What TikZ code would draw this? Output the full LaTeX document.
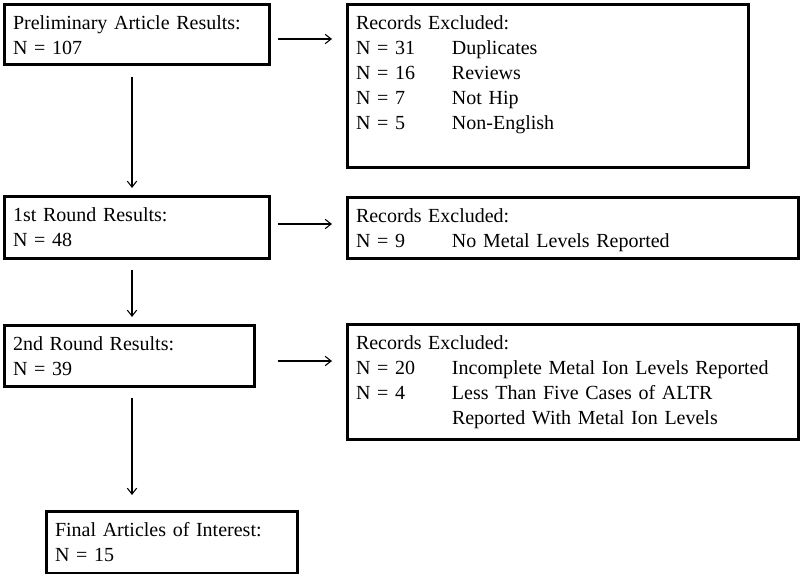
\documentclass[tikz,border=0pt]{standalone}
\usepackage{fontspec}
\setmainfont{Liberation Serif}
\usetikzlibrary{arrows.meta}

\tikzset{
  box/.style={draw, line width=2pt, anchor=north west, align=left,
    inner xsep=6.5pt, inner ysep=0pt, text height=18.75pt,
    font=\fontsize{15pt}{18.75pt}\selectfont},
  arr/.style={-{Straight Barb[length=4.5pt,width=7pt]}, line width=0.8pt}
}
% one row of an exclusion list: count, then reason
\newcommand{\exrow}[2]{\makebox[72pt][l]{N = #1}#2}

\begin{document}
\begin{tikzpicture}[x=0.75pt, y=-0.75pt]
  \useasboundingbox (0,0) rectangle (800,574);

  % Left column (results)
  \node[box, text width=185.75pt, text depth=26.25pt] (prelim) at (3,3)
    {Preliminary Article Results:\\N = 107};
  \node[box, text width=185.75pt, text depth=27.75pt] (first) at (3,195)
    {1st Round Results:\\N = 48};
  \node[box, text width=174.5pt, text depth=27pt] (second) at (3,324)
    {2nd Round Results:\\N = 39};
  \node[box, text width=175.25pt, text depth=27.75pt] (final) at (45,510)
    {Final Articles of Interest:\\N = 15};

  % Right column (exclusions)
  \node[box, text width=287.75pt, text depth=103.5pt] (excl1) at (346,3)
    {Records Excluded:\\
     \exrow{31}{Duplicates}\\
     \exrow{16}{Reviews}\\
     \exrow{7}{Not Hip}\\
     \exrow{5}{Non-English}};
  \node[box, text width=325.25pt, text depth=27pt] (excl2) at (346,196)
    {Records Excluded:\\
     \exrow{9}{No Metal Levels Reported}};
  \node[box, text width=325.25pt, text depth=67.5pt] (excl3) at (346,323)
    {Records Excluded:\\
     \exrow{20}{Incomplete Metal Ion Levels Reported}\\
     \exrow{4}{Less Than Five Cases of ALTR}\\
     \hspace*{72pt}Reported With Metal Ion Levels};

  % Down arrows
  \draw[arr, shorten <=8.25pt, shorten >=5.25pt] (prelim.south -| 132,0) -- (first.north -| 132,0);
  \draw[arr, shorten <=7.5pt, shorten >=5.25pt] (first.south -| 132,0) -- (second.north -| 132,0);
  \draw[arr, shorten <=7.5pt, shorten >=11.25pt] (second.south -| 132,0) -- (final.north -| 132,0);

  % Side arrows
  \draw[arr, shorten <=5.25pt, shorten >=10.5pt] (prelim.east |- 0,39) -- (excl1.west |- 0,39);
  \draw[arr, shorten <=5.25pt, shorten >=10.5pt] (first.east |- 0,224) -- (excl2.west |- 0,224);
  \draw[arr, shorten <=16.5pt, shorten >=10.5pt] (second.east |- 0,361) -- (excl3.west |- 0,361);
\end{tikzpicture}
\end{document}
